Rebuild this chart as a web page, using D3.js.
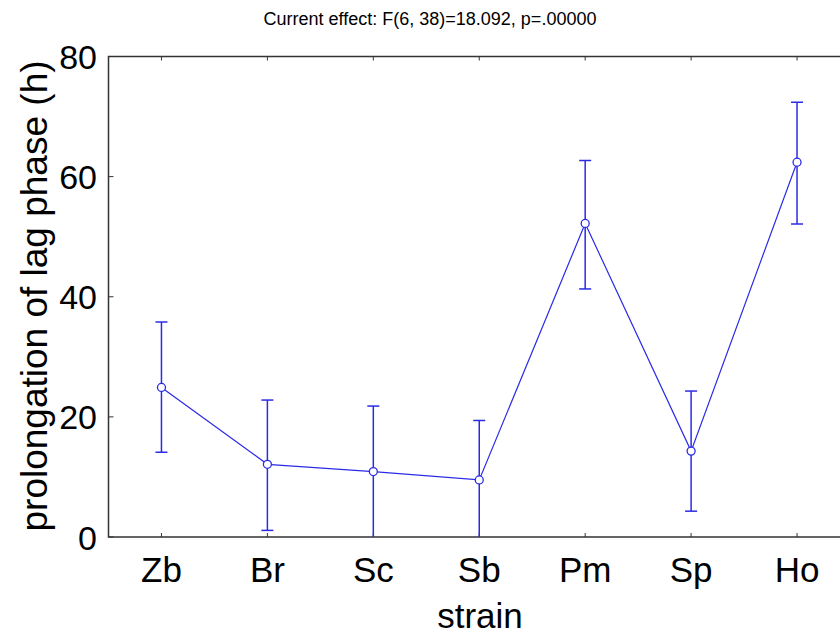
<!DOCTYPE html>
<html>
<head>
<meta charset="utf-8">
<script src="https://cdn.jsdelivr.net/npm/d3@7"></script>
<style>
  body { margin: 0; background: #fff; }
  text { font-family: "Liberation Sans", Arial, sans-serif; fill: #000; }
</style>
</head>
<body>
<svg width="840" height="634"></svg>
<script>
// values
var strains = ["Zb", "Br", "Sc", "Sb", "Pm", "Sp", "Ho"];
var means   = [24.9, 12.1, 10.9, 9.5, 52.2, 14.3, 62.4];
var upper   = [35.8, 22.8, 21.8, 19.4, 62.7, 24.3, 72.4];
var lower   = [14.1, 1.1, -0.2, -0.4, 41.3, 4.3, 52.1];
var yTicks  = [0, 20, 40, 60, 80];

var svg = d3.select("svg"),
    pLeft = 108.5, pRight = 850, pTop = 56.5, pBottom = 537,
    blue = "#2b2be6";

var x = d3.scaleBand().domain(strains).range([pLeft, pRight]);
var y = d3.scaleLinear().domain([0, 80]).range([pBottom, pTop]);
var cx = function(d) { return x(d) + x.bandwidth() / 2; };

var data = strains.map(function(s, i) {
  return { name: s, mean: means[i], hi: upper[i], lo: lower[i] };
});

svg.append("text")
  .attr("x", 430).attr("y", 25)
  .attr("text-anchor", "middle")
  .attr("font-size", 18)
  .text("Current effect: F(6, 38)=18.092, p=.00000");

svg.append("clipPath").attr("id", "plot")
  .append("rect")
  .attr("x", pLeft).attr("y", pTop)
  .attr("width", pRight - pLeft).attr("height", pBottom - pTop);

// frame
svg.append("path")
  .attr("d", "M" + pRight + "," + pTop + "H" + pLeft + "V" + pBottom + "H" + pRight)
  .attr("fill", "none").attr("stroke", "#333").attr("stroke-width", 1.5);

// y axis ticks and labels
svg.selectAll(".ytick").data(yTicks).enter().append("line")
  .attr("x1", pLeft).attr("x2", pLeft + 5)
  .attr("y1", function(d) { return y(d); }).attr("y2", function(d) { return y(d); })
  .attr("stroke", "#333");
svg.selectAll(".ylab").data(yTicks).enter().append("text")
  .attr("x", 97).attr("y", function(d) { return y(d) + 12.5; })
  .attr("text-anchor", "end")
  .attr("font-size", 34)
  .text(function(d) { return d; });

// x axis ticks (bottom and top, inward)
svg.selectAll(".xtickb").data(strains).enter().append("line")
  .attr("x1", cx).attr("x2", cx)
  .attr("y1", pBottom).attr("y2", pBottom - 4)
  .attr("stroke", "#333");
svg.selectAll(".xtickt").data(strains).enter().append("line")
  .attr("x1", cx).attr("x2", cx)
  .attr("y1", pTop).attr("y2", pTop + 4)
  .attr("stroke", "#333");
svg.selectAll(".xlab").data(strains).enter().append("text")
  .attr("x", cx).attr("y", 582)
  .attr("text-anchor", "middle")
  .attr("font-size", 35)
  .text(function(d) { return d; });

svg.append("text")
  .attr("x", 480).attr("y", 628)
  .attr("text-anchor", "middle")
  .attr("font-size", 35)
  .text("strain");

svg.append("text")
  .attr("transform", "translate(47,296) rotate(-90)")
  .attr("text-anchor", "middle")
  .attr("font-size", 37)
  .text("prolongation of lag phase (h)");

var g = svg.append("g").attr("clip-path", "url(#plot)");

// error bars
g.selectAll(".err").data(data).enter().append("line")
  .attr("x1", function(d) { return cx(d.name); })
  .attr("x2", function(d) { return cx(d.name); })
  .attr("y1", function(d) { return y(d.lo); })
  .attr("y2", function(d) { return y(d.hi); })
  .attr("stroke", blue).attr("stroke-width", 1.5);
g.selectAll(".capH").data(data).enter().append("line")
  .attr("x1", function(d) { return cx(d.name) - 6; })
  .attr("x2", function(d) { return cx(d.name) + 6; })
  .attr("y1", function(d) { return y(d.hi); })
  .attr("y2", function(d) { return y(d.hi); })
  .attr("stroke", blue).attr("stroke-width", 1.5);
g.selectAll(".capL").data(data.filter(function(d) { return d.lo > 0; })).enter().append("line")
  .attr("x1", function(d) { return cx(d.name) - 6; })
  .attr("x2", function(d) { return cx(d.name) + 6; })
  .attr("y1", function(d) { return y(d.lo); })
  .attr("y2", function(d) { return y(d.lo); })
  .attr("stroke", blue).attr("stroke-width", 1.5);

// mean line
var line = d3.line()
  .x(function(d) { return cx(d.name); })
  .y(function(d) { return y(d.mean); });
g.append("path").datum(data)
  .attr("d", line)
  .attr("fill", "none").attr("stroke", blue).attr("stroke-width", 1.2);

g.selectAll(".pt").data(data).enter().append("circle")
  .attr("cx", function(d) { return cx(d.name); })
  .attr("cy", function(d) { return y(d.mean); })
  .attr("r", 4)
  .attr("fill", "#fff").attr("stroke", blue).attr("stroke-width", 1.3);
</script>
</body>
</html>
